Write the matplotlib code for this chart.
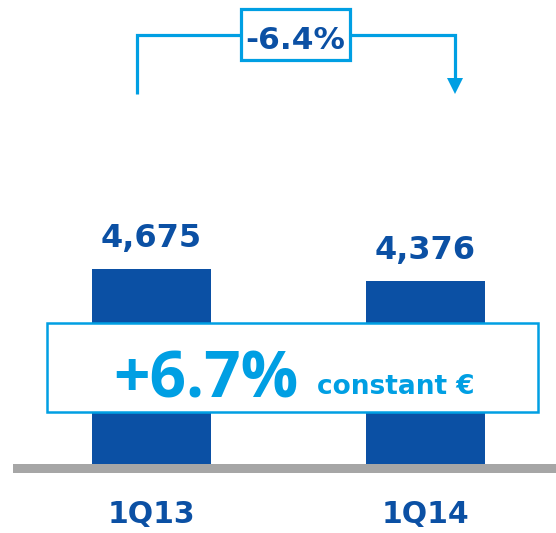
import matplotlib
matplotlib.use("Agg")
import matplotlib.pyplot as plt
from matplotlib.lines import Line2D
from matplotlib.patches import Rectangle, Polygon

# ---- data ----
categories = ["1Q13", "1Q14"]
values = [4675, 4376]
value_labels = ["4,675", "4,376"]
change_label = "-6.4%"
constant_label = "+6.7%"
constant_suffix = "constant €"

# ---- style ----
DARK = "#0b50a4"
LIGHT = "#009fe3"
GRAY = "#a6a6a6"
W, H = 556, 533

fig = plt.figure(figsize=(W / 100, H / 100), dpi=100)
fig.patch.set_facecolor("white")
ax = fig.add_axes([0, 0, 1, 1])
ax.axis("off")

# layout (pixels)
x0_px, step_px, bar_px = 151.5, 274.0, 119.0
base_px = 464.0           # baseline from top
px_per_unit = 195.0 / values[0]

ax.set_xlim(-x0_px / step_px, (W - x0_px) / step_px)
ax.set_ylim(-(H - base_px) / px_per_unit, base_px / px_per_unit)

xs = list(range(len(categories)))
ax.bar(xs, values, width=bar_px / step_px, color=DARK, zorder=2)

for x, v, lab in zip(xs, values, value_labels):
    ax.annotate(lab, (x, v), xytext=(0, 15), textcoords="offset pixels",
                ha="center", va="bottom", fontsize=23, fontweight="bold",
                color=DARK, family="DejaVu Sans")
    ax.annotate(categories[x], (x, 0), xytext=(0, -59), textcoords="offset pixels",
                ha="center", va="baseline", fontsize=21.5, fontweight="bold",
                color=DARK, family="DejaVu Sans")


def P(x, y):
    return (x / W, 1 - y / H)


# gray baseline
fig.add_artist(Rectangle(P(13, 473), (W - 13) / W, 9 / H, transform=fig.transFigure,
                         facecolor=GRAY, edgecolor="none", zorder=1))

# change arrow
lw = 2.3
xl, xr, ytop = 137, 455, 35
fig.add_artist(Line2D([P(xl, 94)[0], P(xl, ytop)[0], P(xr, ytop)[0], P(xr, 80)[0]],
                      [P(xl, 94)[1], P(xl, ytop)[1], P(xr, ytop)[1], P(xr, 80)[1]],
                      transform=fig.transFigure, color=LIGHT, lw=lw,
                      solid_joinstyle="miter", solid_capstyle="butt"))
fig.add_artist(Polygon([P(xr - 8, 78), P(xr + 8, 78), P(xr, 94)], closed=True,
                       transform=fig.transFigure, facecolor=LIGHT, edgecolor="none"))

# -6.4% box
fig.add_artist(Rectangle(P(241, 60), 109 / W, 51 / H, transform=fig.transFigure,
                         facecolor="white", edgecolor=LIGHT, lw=2.3, zorder=3))
fig.text(*P(295.5, 49), change_label, ha="center", va="baseline", fontsize=22.5,
         fontweight="bold", color=DARK, family="DejaVu Sans", zorder=4)

# constant currency box
fig.add_artist(Rectangle(P(47, 412), 491 / W, 89 / H, transform=fig.transFigure,
                         facecolor="white", edgecolor=LIGHT, lw=1.8, zorder=3))
fig.text(*P(113, 397), constant_label, ha="left", va="baseline", fontsize=46,
         fontweight="bold", color=LIGHT, family="Open Sans", zorder=4)
fig.text(*P(317, 394), constant_suffix, ha="left", va="baseline", fontsize=19,
         fontweight="bold", color=LIGHT, family="DejaVu Sans", zorder=4)

fig.savefig("out.png", dpi=100, facecolor="white")
